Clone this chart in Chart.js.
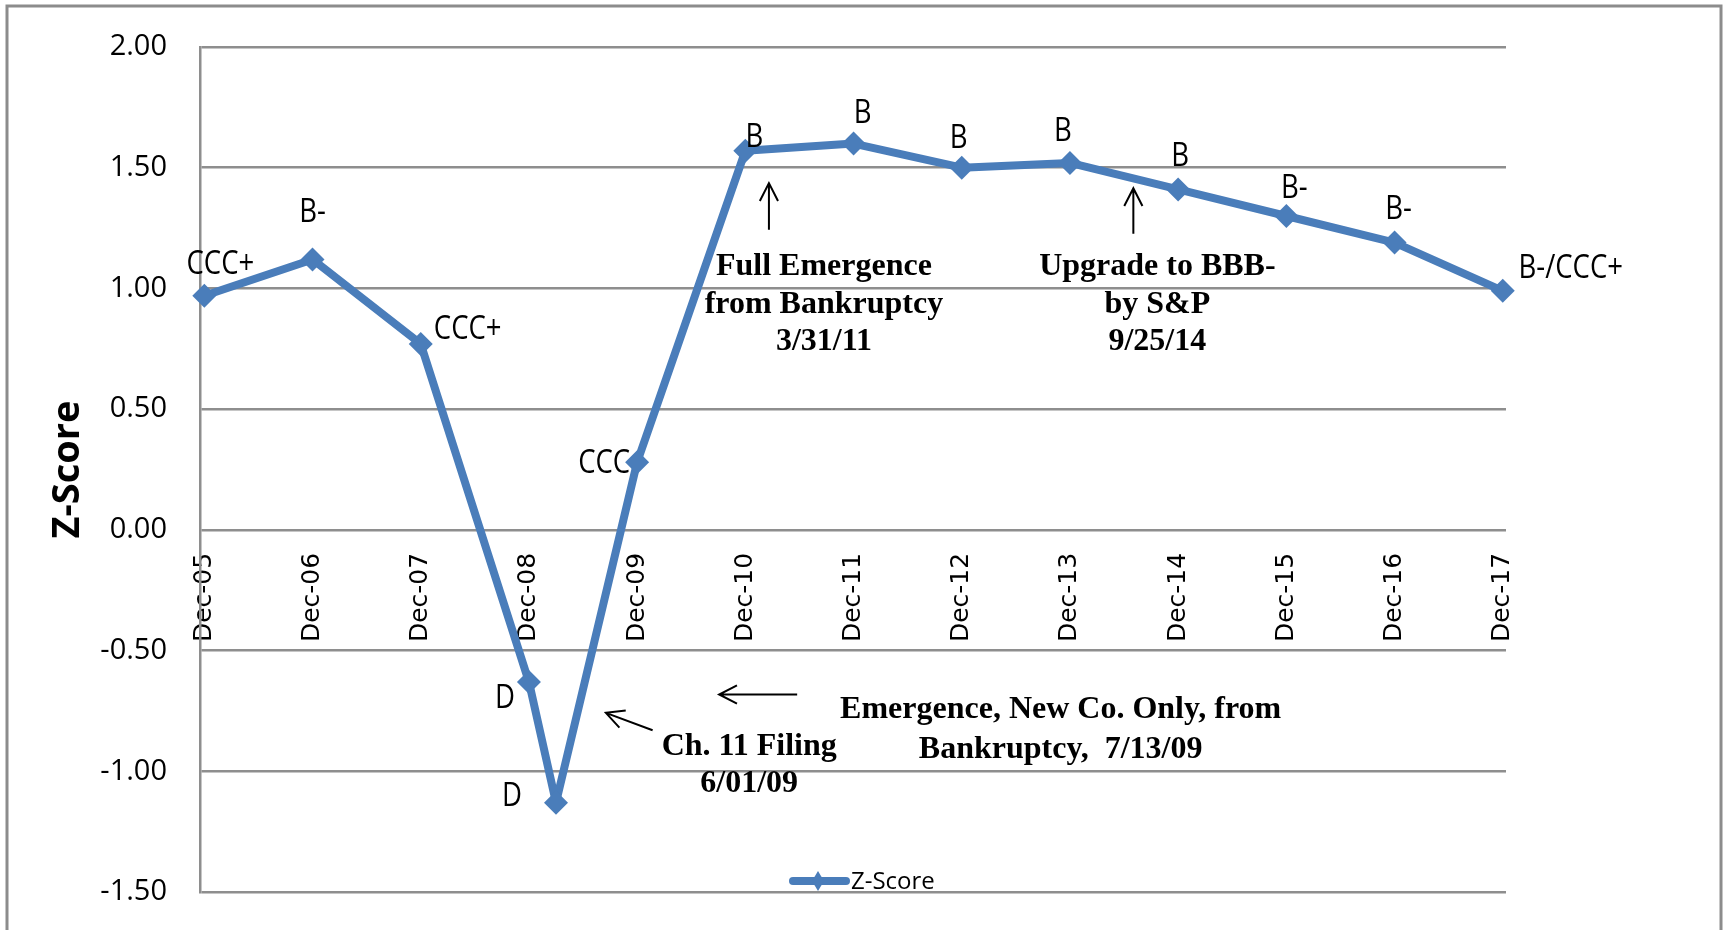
<!DOCTYPE html>
<html><head><meta charset="utf-8">
<script src="https://cdn.jsdelivr.net/npm/chart.js@4.4.1/dist/chart.umd.min.js"></script>
<style>html,body{margin:0;padding:0;background:#fff;overflow:hidden}#wrap{width:1725px;height:930px}</style>
</head><body><div id="wrap"><canvas id="c" width="1725" height="930"></canvas></div>
<script>
// ---- data ----
const tickLabels = ['Dec-05','Dec-06','Dec-07','Dec-08','Dec-09','Dec-10','Dec-11','Dec-12','Dec-13','Dec-14','Dec-15','Dec-16','Dec-17'];
const tickPositions = [0,1,2,3,4,5,6,7,8,9,10,11,12]; // years after Dec-05
const xValues = [0,1,2,3,3.25,4,5,6,7,8,9,10,11,12];
const zScores = [0.97,1.12,0.77,-0.63,-1.13,0.28,1.57,1.60,1.50,1.52,1.41,1.30,1.19,0.99];
const ratings = ['CCC+','B-','CCC+','D','D','CCC','B','B','B','B','B','B-','B-','B-/CCC+'];
const yTicks = [-1.5,-1,-0.5,0,0.5,1,1.5,2];
const seriesName = 'Z-Score';

// ---- annotation content (positions in data units) ----
const notes = [
  {lines:['Full Emergence','from Bankruptcy','3/31/11'], x:5.726, y:1.055, step:37.4},
  {lines:['Upgrade to BBB-','by S&P','9/25/14'], x:8.808, y:1.055, step:37.4},
  {lines:['Emergence, New Co. Only, from','Bankruptcy,  7/13/09'], x:7.914, y:-0.781, step:40},
  {lines:['Ch. 11 Filing','6/01/09'], x:5.036, y:-0.933, step:37}
];
const arrows = [
  {from:[5.218,1.243], to:[5.218,1.436]},
  {from:[8.586,1.226], to:[8.586,1.415]},
  {from:[5.479,-0.682], to:[4.758,-0.682]},
  {from:[4.143,-0.830], to:[3.711,-0.758]}
];
// label offsets (px, centre of text relative to point)
const labelOffsets = [[16,-33],[0,-49],[47,-16],[-24,15],[-44,-8],[-33,-1],[9,-15],[9,-32],[-3,-31],[-7,-33],[2,-35],[8,-30],[4,-35],[68,-24]];

const BLUE = '#4a7dba';
const GRID = '#8e8e8e';

const extras = {
  id:'extras',
  beforeDraw(chart){
    const c = chart.ctx;
    c.save();
    c.fillStyle = '#fff'; c.fillRect(0,0,chart.width,chart.height);
    c.strokeStyle = '#8c8c8c'; c.lineWidth = 3;
    c.strokeRect(7,6,1714,1000);
    c.restore();
  },
  afterDatasetsDraw(chart){
    const c = chart.ctx, xs = chart.scales.x, ys = chart.scales.y;
    const meta = chart.getDatasetMeta(0);
    c.save();
    // data labels
    c.fillStyle = '#000'; c.textAlign = 'center'; c.textBaseline = 'alphabetic';
    c.font = '32px "Open Sans"';
    meta.data.forEach((pt,i) => {
      const [dx,dy] = labelOffsets[i];
      c.save(); c.translate(pt.x+dx, pt.y+dy+11.5); c.scale(0.86,1);
      c.fillText(ratings[i],0,0); c.restore();
    });
    // notes
    c.font = 'bold 32px "Liberation Serif"';
    notes.forEach(n => {
      const px = xs.getPixelForValue(n.x), py = ys.getPixelForValue(n.y);
      n.lines.forEach((t,k) => c.fillText(t, px, py + k*n.step));
    });
    // arrows
    c.strokeStyle = '#000'; c.lineWidth = 2; c.lineCap = 'butt';
    arrows.forEach(a => {
      const x1 = xs.getPixelForValue(a.from[0]), y1 = ys.getPixelForValue(a.from[1]);
      const x2 = xs.getPixelForValue(a.to[0]), y2 = ys.getPixelForValue(a.to[1]);
      const ang = Math.atan2(y2-y1, x2-x1), L = 20, h = 27*Math.PI/180;
      c.beginPath(); c.moveTo(x1,y1); c.lineTo(x2,y2);
      c.moveTo(x2 - L*Math.cos(ang-h), y2 - L*Math.sin(ang-h)); c.lineTo(x2,y2);
      c.lineTo(x2 - L*Math.cos(ang+h), y2 - L*Math.sin(ang+h));
      c.stroke();
    });
    // legend
    const lx = 818, ly = 881;
    c.strokeStyle = BLUE; c.lineWidth = 8; c.lineCap = 'round';
    c.beginPath(); c.moveTo(793,ly); c.lineTo(846,ly); c.stroke();
    c.fillStyle = BLUE; c.beginPath();
    c.moveTo(lx-6,ly); c.lineTo(lx,ly-10); c.lineTo(lx+6,ly); c.lineTo(lx,ly+10); c.closePath(); c.fill();
    c.fillStyle = '#000'; c.textAlign = 'left'; c.font = '24px "Open Sans"';
    c.fillText(seriesName, 851, 889);
    c.restore();
  }
};

new Chart(document.getElementById('c'), {
  type:'line',
  data:{datasets:[{
    label: seriesName,
    data: xValues.map((x,i) => ({x, y: zScores[i]})),
    borderColor: BLUE, backgroundColor: BLUE,
    borderWidth: 8, borderJoinStyle:'round', borderCapStyle:'round',
    pointStyle:'rectRot', pointRadius: 12, pointBorderWidth: 0,
    pointBackgroundColor: BLUE, tension: 0, clip: false
  }]},
  options:{
    responsive:false, animation:false, devicePixelRatio:1,
    layout:{padding:{left:0, top:47, right:219, bottom:38}},
    plugins:{legend:{display:false}, tooltip:{enabled:false}},
    scales:{
      x:{
        type:'linear', position:{y:0}, min:-0.04, max:12.03,
        afterBuildTicks: s => { s.ticks = tickPositions.map(v => ({value:v})); },
        afterFit: s => { s.paddingTop = 0; s.paddingBottom = 0; },
        ticks:{autoSkip:false, minRotation:90, maxRotation:90, padding:23, color:'#000',
          font:{family:'"DejaVu Sans"', size:25},
          callback:(v,i) => tickLabels[i]},
        grid:{display:false, drawTicks:false},
        border:{display:false}
      },
      y:{
        min:-1.5, max:2,
        afterBuildTicks: s => { s.ticks = yTicks.map(v => ({value:v})); },
        afterFit: s => { s.width = 200; s.paddingTop = 0; s.paddingBottom = 0; },
        ticks:{padding:33, color:'#000', font:{family:'"Open Sans"', size:29},
          callback: v => Number(v).toFixed(2)},
        grid:{color:GRID, lineWidth:2.5, drawTicks:false},
        border:{display:true, color:GRID, width:2.5},
        title:{display:true, text:'Z-Score', color:'#000',
          font:{family:'"Open Sans"', size:38, weight:'bold'}, padding:{top:45, bottom:0}}
      }
    }
  },
  plugins:[extras]
});
</script>
</body></html>
